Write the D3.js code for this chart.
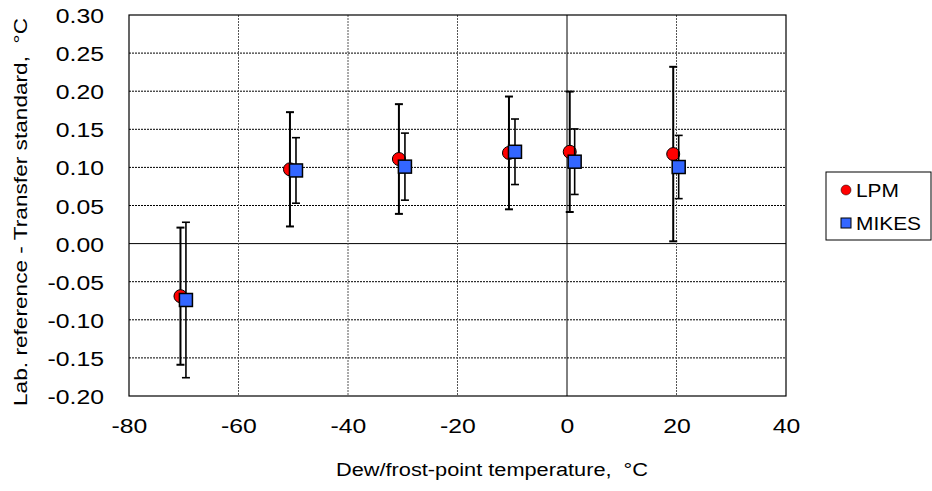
<!DOCTYPE html>
<html>
<head>
<meta charset="utf-8">
<script src="https://cdn.jsdelivr.net/npm/d3@7"></script>
<style>
  body { margin: 0; background: #fff; }
  text { font-family: "Liberation Sans", Arial, sans-serif; fill: #000; }
</style>
</head>
<body>
<div class="svg-container"></div>
<script>
// data
const lpmTemp   = [-70.6, -50.6, -30.7, -10.6, 0.5, 19.4];
const lpmDiff   = [-0.069, 0.0975, 0.111, 0.119, 0.1205, 0.1175];
const lpmUnc    = [0.090, 0.075, 0.072, 0.074, 0.079, 0.1145];

const mikesTemp = [-69.6, -49.5, -29.6, -9.5, 1.4, 20.4];
const mikesDiff = [-0.074, 0.096, 0.101, 0.1205, 0.1075, 0.1005];
const mikesUnc  = [0.102, 0.043, 0.044, 0.043, 0.043, 0.0415];

const xTicks = [-80, -60, -40, -20, 0, 20, 40];
const yTicks = [-0.20, -0.15, -0.10, -0.05, 0.00, 0.05, 0.10, 0.15, 0.20, 0.25, 0.30];

const seriesNames = ['LPM', 'MIKES'];

//////////////////////////////////////////
const W = 932, H = 491;
const margin = {top: 15, right: 146, bottom: 95, left: 129};
const width = W - margin.left - margin.right;
const height = H - margin.top - margin.bottom;
const stretch = 1.18; // the original text is drawn wider than normal

// plain hyphen for negatives, like the original
const hyphen = f => (d => f(d).replace('\u2212', '-'));

const svg = d3.select('.svg-container')
    .append('svg')
    .attr('width', W)
    .attr('height', H);

const g = svg.append('g')
    .attr('transform', `translate(${margin.left}, ${margin.top})`);

const x = d3.scaleLinear().domain([-80, 40]).range([0, width]);
const y = d3.scaleLinear().domain([-0.20, 0.30]).range([height, 0]);

// grid
g.selectAll('.hgrid')
  .data(yTicks.slice(1, -1))
  .enter().append('line')
    .attr('x1', 0).attr('x2', width)
    .attr('y1', d => y(d)).attr('y2', d => y(d))
    .attr('stroke', '#000')
    .attr('stroke-width', 1)
    .attr('stroke-dasharray', d => d === 0 ? null : '2,1');

g.selectAll('.vgrid')
  .data(xTicks.slice(1, -1))
  .enter().append('line')
    .attr('y1', 0).attr('y2', height)
    .attr('x1', d => x(d)).attr('x2', d => x(d))
    .attr('stroke', d => d === 0 ? '#000' : '#555')
    .attr('stroke-width', 1)
    .attr('stroke-dasharray', d => d === 0 ? null : '2,1');

g.append('rect')
    .attr('width', width).attr('height', height)
    .attr('fill', 'none')
    .attr('stroke', '#000')
    .attr('stroke-width', 1.2);

// axes
const xAxis = g.append('g')
    .attr('transform', `translate(0,${height})`)
    .call(d3.axisBottom(x).tickValues(xTicks).tickSize(0).tickFormat(hyphen(d3.format('d'))));
xAxis.select('.domain').remove();
xAxis.selectAll('text')
    .attr('y', 37).attr('dy', 0)
    .style('font-size', '21px')
    .attr('transform', `scale(${stretch},1)`);

const yAxis = g.append('g')
    .call(d3.axisLeft(y).tickValues(yTicks).tickSize(0).tickFormat(hyphen(d3.format('.2f'))));
yAxis.select('.domain').remove();
yAxis.selectAll('text')
    .attr('x', -25 / stretch).attr('dy', '0.36em')
    .style('font-size', '21px')
    .attr('transform', `scale(${stretch},1)`);

// axis titles
svg.append('text')
    .attr('x', 492).attr('y', 476)
    .attr('text-anchor', 'middle')
    .style('font-size', '18px')
    .style('white-space', 'pre')
    .attr('textLength', 312)
    .attr('lengthAdjust', 'spacingAndGlyphs')
    .text('Dew/frost-point temperature,  \u00B0C');

svg.append('text')
    .attr('transform', 'translate(27,212) rotate(-90)')
    .attr('text-anchor', 'middle')
    .style('font-size', '18px')
    .style('white-space', 'pre')
    .attr('textLength', 388)
    .attr('lengthAdjust', 'spacingAndGlyphs')
    .text('Lab. reference - Transfer standard,  \u00B0C');

// error bars + markers
function errorBars(temps, vals, unc, sw) {
  const data = temps.map((t, i) => ({t: t, v: vals[i], u: unc[i]}));
  const eb = g.append('g').attr('stroke', '#000').attr('stroke-width', sw);
  eb.selectAll('.stem').data(data).enter().append('line')
      .attr('x1', d => x(d.t)).attr('x2', d => x(d.t))
      .attr('y1', d => y(d.v - d.u)).attr('y2', d => y(d.v + d.u));
  eb.selectAll('.capTop').data(data).enter().append('line')
      .attr('x1', d => x(d.t) - 4).attr('x2', d => x(d.t) + 4)
      .attr('y1', d => y(d.v + d.u)).attr('y2', d => y(d.v + d.u));
  eb.selectAll('.capBot').data(data).enter().append('line')
      .attr('x1', d => x(d.t) - 4).attr('x2', d => x(d.t) + 4)
      .attr('y1', d => y(d.v - d.u)).attr('y2', d => y(d.v - d.u));
  return data;
}

const lpmData = errorBars(lpmTemp, lpmDiff, lpmUnc, 2);
g.selectAll('.lpm').data(lpmData).enter().append('circle')
    .attr('cx', d => x(d.t)).attr('cy', d => y(d.v))
    .attr('r', 6.5)
    .attr('fill', '#ff0000')
    .attr('stroke', '#000').attr('stroke-width', 1);

const mikesData = errorBars(mikesTemp, mikesDiff, mikesUnc, 1.6);
g.selectAll('.mikes').data(mikesData).enter().append('rect')
    .attr('x', d => x(d.t) - 6.5).attr('y', d => y(d.v) - 6.5)
    .attr('width', 13).attr('height', 13)
    .attr('fill', '#3366ff')
    .attr('stroke', '#000').attr('stroke-width', 1.5);

// legend
const legend = svg.append('g').attr('transform', 'translate(826,172)');
legend.append('rect')
    .attr('width', 105).attr('height', 68)
    .attr('fill', '#fff').attr('stroke', '#000').attr('stroke-width', 1);

legend.append('circle')
    .attr('cx', 20).attr('cy', 18).attr('r', 5)
    .attr('fill', '#ff0000').attr('stroke', '#000').attr('stroke-width', 0.5);
legend.append('rect')
    .attr('x', 15).attr('y', 46).attr('width', 10).attr('height', 10)
    .attr('fill', '#3366ff').attr('stroke', '#000').attr('stroke-width', 1);

legend.selectAll('.ltext').data(seriesNames).enter().append('text')
    .attr('x', 30 / 1.1)
    .attr('y', (d, i) => 18 + i * 33)
    .attr('dy', '0.36em')
    .attr('transform', 'scale(1.1,1)')
    .style('font-size', '19px')
    .text(d => d);
</script>
</body>
</html>
